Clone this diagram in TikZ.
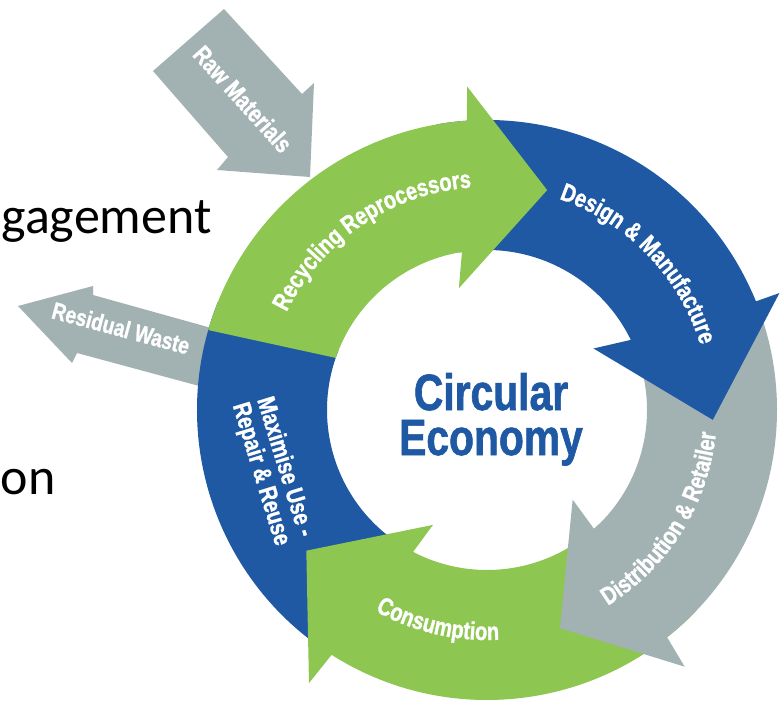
\documentclass[tikz,border=0pt]{standalone}
\usepackage{fontspec}
\setmainfont{Carlito}
\newfontfamily\condfont[FakeStretch=0.8, BoldFeatures={FakeBold=1.2}]{Liberation Sans}
\usepackage{tikz}
\usetikzlibrary{positioning,%
  calc,%
  decorations.text
}
\definecolor{cegreen}{RGB}{141,198,80}
\definecolor{ceblue}{RGB}{31,89,164}
\definecolor{cegray}{RGB}{162,178,178}
\tikzset{
  ringtext/.style={decorate, decoration={text along path, text align=center,
      text={|\condfont\bfseries\fontsize{25}{25}\selectfont\color{white}|#1}}},
  flowlabel/.style={text=white, font=\condfont\bfseries\fontsize{24}{24}\selectfont, inner sep=0pt},
  cetitle/.style={text=ceblue, font=\condfont\bfseries\fontsize{51}{51}\selectfont, inner sep=0pt}
}

\begin{document}
\begin{tikzpicture}[x=1pt, y=1pt]
            \useasboundingbox (0,0) rectangle (780,-701);

            \node [anchor=base east, font=\fontsize{52}{52}\selectfont] (engage) at (215,-233) {gagement};
            \node [anchor=base east, font=\fontsize{52}{52}\selectfont] (optim) at (59,-494) {on};

            % inflow and outflow
            \fill [cegray] (224,-9) -- (153,-71) -- (228,-157) -- (217,-170) -- (310,-177) -- (314,-83) -- (302,-94) -- cycle;
            \node [flowlabel, rotate=-48, font=\condfont\bfseries\fontsize{25}{25}\selectfont] (raw) at (243,-99) {Raw Materials};
            \fill [cegray] (18,-306) -- (93,-286) -- (93,-295) -- (240,-336) -- (240,-397) -- (77,-353) -- (72,-363) -- cycle;
            \node [flowlabel, rotate=-15] (waste) at (121,-328) {Residual Waste};

            \begin{scope}[shift={(487,-410)}]
            \fill [ceblue] (158:290) arc [start angle=158, end angle=233, radius=290] -- (233:160)
                arc [start angle=233, end angle=158, radius=160] -- cycle;
            \fill [cegreen] (-44:290) arc [start angle=-44, end angle=-122.4, radius=290] -- (-123.1:326)
                -- (-142.1:229) -- (-115.2:127) -- (-117.5:160) arc [start angle=-117.5, end angle=-44, radius=160] -- cycle;
            \fill [cegray] (24:290) arc [start angle=24, end angle=-51.6, radius=290] -- (-52.4:324)
                -- (-71.5:230) -- (-46.3:124) -- (-48:160) arc [start angle=-48, end angle=24, radius=160] -- cycle;
            \fill [ceblue] (100:290) arc [start angle=100, end angle=22, radius=290] -- (21.8:315)
                -- (-2.5:226) -- (30:123) -- (26:160) arc [start angle=26, end angle=100, radius=160] -- cycle;
            \fill [cegreen] (164:290) arc [start angle=164, end angle=94, radius=290] -- (93.5:324)
                -- (74.7:228) -- (103:125) -- (99:160) arc [start angle=99, end angle=161, radius=160] -- cycle;

            \path [ringtext={Recycling Reprocessors}] (164:223) arc [start angle=164, end angle=84, radius=223];
            \path [ringtext={Design {\&} Manufacture}] (84:223) arc [start angle=84, end angle=4, radius=223];
            \path [ringtext={Distribution {\&} Retailer}] (-80:230) arc [start angle=-80, end angle=16, radius=230];
            \path [ringtext={Consumption}] (-140:230) arc [start angle=-140, end angle=-66, radius=230];
            \node [flowlabel, rotate=-73, align=center, font=\condfont\bfseries\fontsize{25}{25}\selectfont]
                (reuse) at (195.8:223) {Maximise Use -\\Repair \& Reuse};
            \end{scope}

            \node [cetitle, anchor=base] (circ) at (491,-410) {Circular};
            \node [cetitle, anchor=base] (econ) at ([yshift=-45pt]circ.base) {Economy};
\end{tikzpicture}
\end{document}
